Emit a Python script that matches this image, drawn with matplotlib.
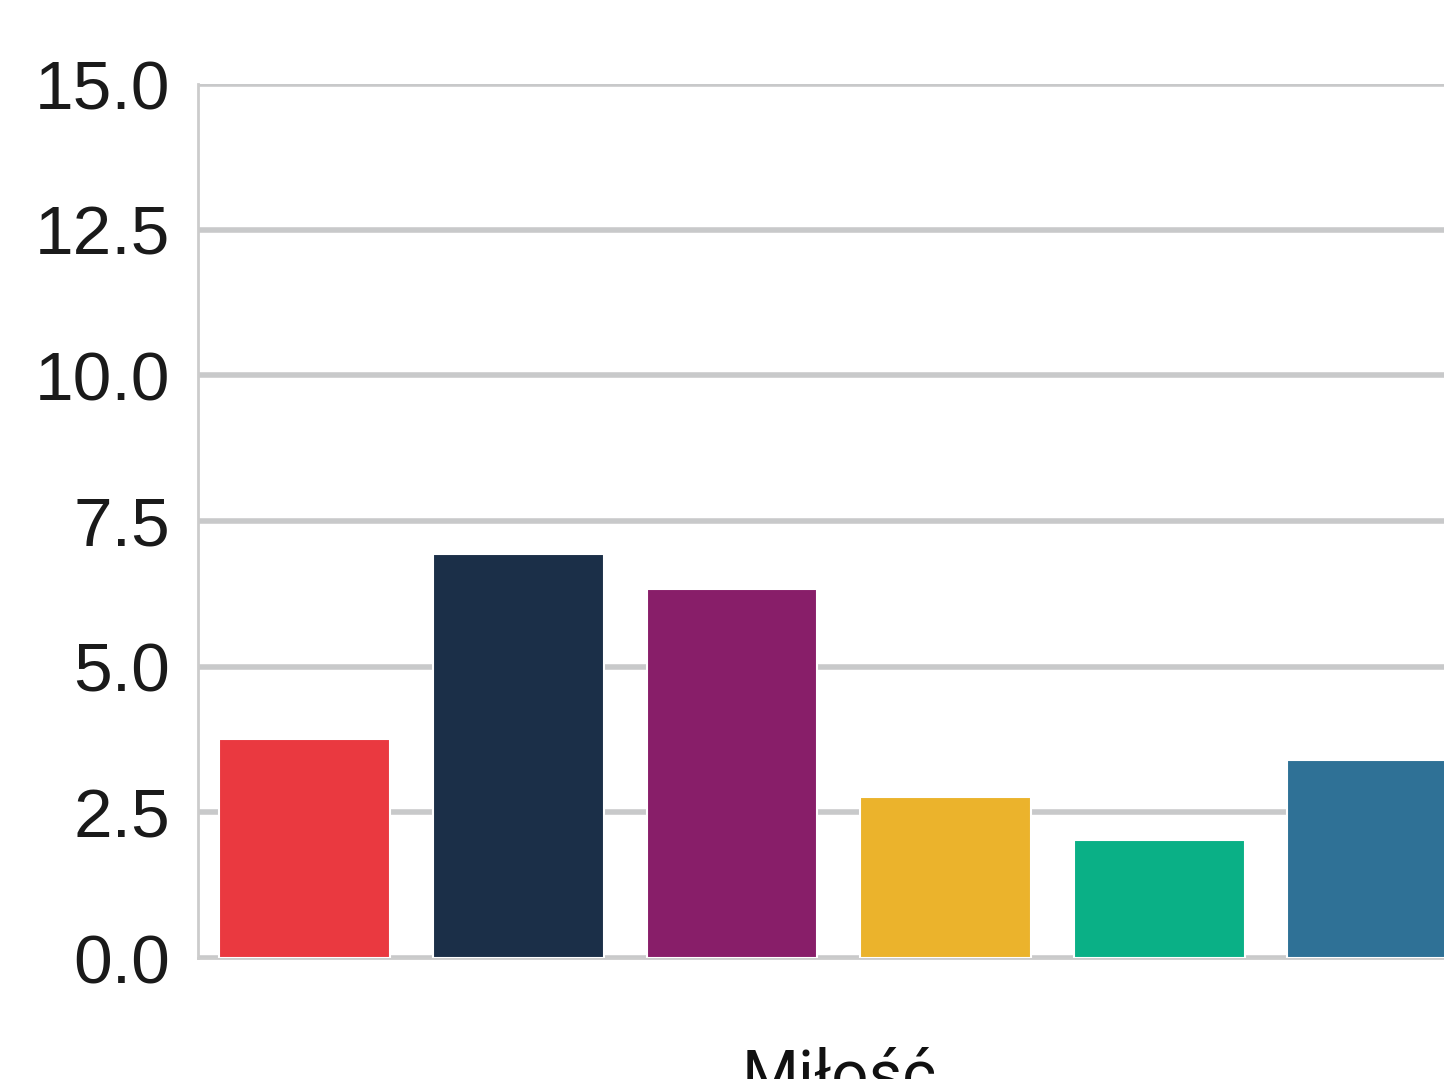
import numpy as np
import matplotlib.pyplot as plt

# data
group_label = "Miłość"
values = [3.76, 6.93, 6.33, 2.76, 2.03, 3.40]
colors = ["#EA3940", "#1B2F48", "#881E69", "#EBB32C", "#0AB086", "#2F7196"]
y_ticks = [0.0, 2.5, 5.0, 7.5, 10.0, 12.5, 15.0]

plt.rcParams["font.family"] = ["Liberation Sans", "DejaVu Sans"]

fig = plt.figure(figsize=(14.44, 10.79), dpi=100)
ax = fig.add_axes([198 / 1444, 1 - 958 / 1079, 1 - 198 / 1444, (958 - 84) / 1079])

x = np.arange(len(values))
ax.bar(x, values, width=0.8, color=colors, edgecolor="white", linewidth=1.5, zorder=3)

ax.set_ylim(0, 15)
ax.set_xlim(-0.5, -0.5 + (1444 - 198) / 213.6)
ax.set_yticks(y_ticks)
ax.set_yticklabels([f"{t:.1f}" for t in y_ticks])
ax.set_xticks([(len(values) - 1) / 2])
ax.set_xticklabels([group_label], family=["Roboto", "DejaVu Sans"], fontsize=47, color="#111111")

ax.grid(axis="y", color="#C8C9CA", linewidth=4, zorder=0)
ax.grid(axis="x", visible=False)
ax.tick_params(axis="y", length=0, labelsize=50, colors="#1A1A1A", pad=20)
ax.tick_params(axis="x", length=0, pad=64)

for side in ["top", "right"]:
    ax.spines[side].set_visible(False)
for side in ["left", "bottom"]:
    ax.spines[side].set_color("#CCCCCC")
    ax.spines[side].set_linewidth(2)

fig.savefig("out.png", dpi=100)
plt.close()
